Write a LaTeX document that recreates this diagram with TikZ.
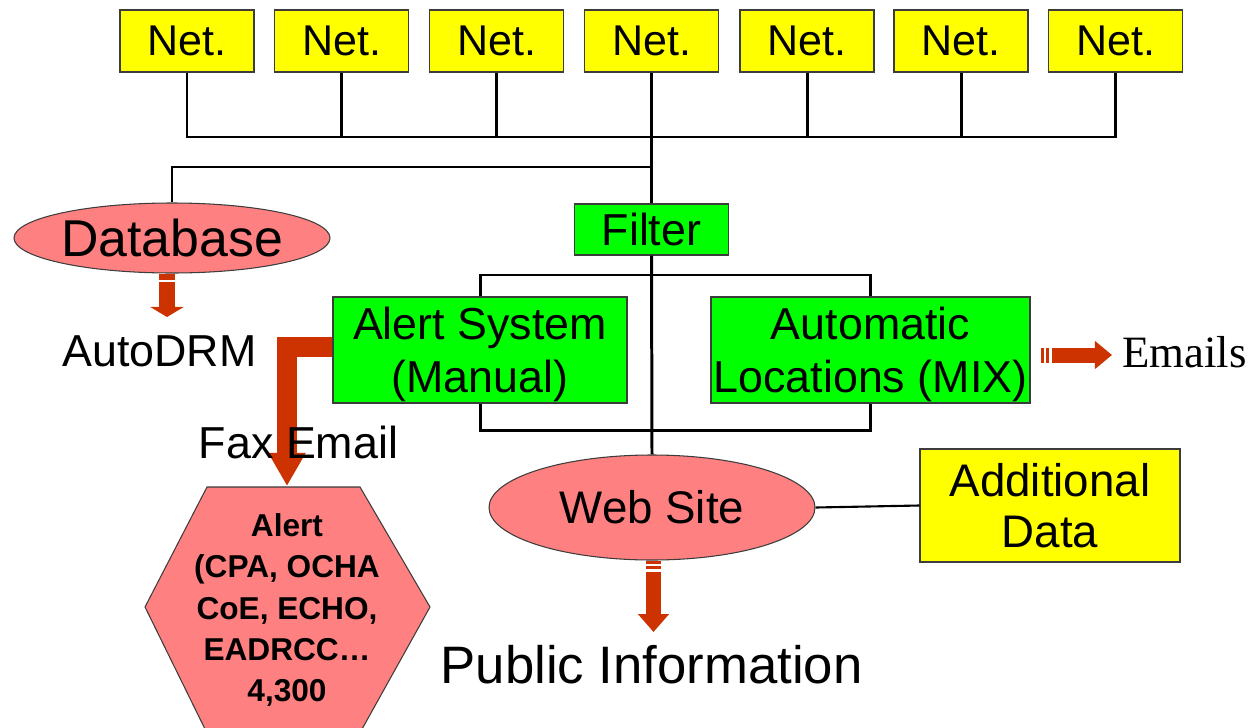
\documentclass[tikz,border=0pt]{standalone}
\usepackage{fontspec}
\setmainfont{Liberation Sans}
\newfontfamily\timesfont{Liberation Serif}
\usetikzlibrary{arrows.meta,calc,shapes.geometric}

\definecolor{netyellow}{RGB}{255,255,0}
\definecolor{procgreen}{RGB}{0,255,0}
\definecolor{salmon}{RGB}{255,128,128}
\definecolor{flowred}{RGB}{204,51,0}
\definecolor{edge}{RGB}{60,60,60}

% one drawing unit (0.02cm = 0.569pt)
\newdimen\pxl \pxl=0.02cm

\tikzset{
  netbox/.style={draw=edge, line width=0.6pt, fill=netyellow, inner sep=0pt,
    minimum width=134*\pxl, minimum height=62*\pxl,
    font=\fontsize{24.5}{28}\selectfont},
  infobox/.style={draw=edge, line width=0.6pt, fill=netyellow, inner sep=0pt,
    align=center, font=\fontsize{26}{29}\selectfont},
  greenbox/.style={draw=edge, line width=0.6pt, fill=procgreen, inner sep=0pt,
    align=center, font=\fontsize{25.5}{30}\selectfont},
  greentext/.style={inner sep=0pt, align=center, yshift=-2.5pt,
    font=\fontsize{25.5}{30}\selectfont},
  pinkoval/.style={ellipse, draw=edge, line width=0.6pt, fill=salmon, inner sep=0pt},
  caption/.style={inner sep=0pt, font=\fontsize{25.5}{30}\selectfont},
  wire/.style={line width=1.7pt, black, line join=miter},
  thinwire/.style={line width=1.2pt, black},
  flow/.style={draw=flowred, line join=miter},
  stripe/.style={fill=flowred},
}

\begin{document}
\begin{tikzpicture}[x=\pxl, y=-\pxl]
\useasboundingbox (0,0) rectangle (1257,727);

% ---- network boxes and bus ----
\node[netbox] (n1) at (187,41) {Net.};
\node[netbox] (n2) at (341.5,41) {Net.};
\node[netbox] (n3) at (496.5,41) {Net.};
\node[netbox] (n4) at (651.5,41) {Net.};
\node[netbox] (n5) at (807,41) {Net.};
\node[netbox] (n6) at (961,41) {Net.};
\node[netbox] (n7) at (1115.5,41) {Net.};
\coordinate (busR) at (1115.5,137);
\coordinate (tap) at (651.5,167);

% ---- processing chain ----
\node[pinkoval, minimum width=316*\pxl, minimum height=70*\pxl,
      font=\fontsize{29.5}{32}\selectfont] (db) at (172,238) {Database};
\node[greenbox, minimum width=154*\pxl, minimum height=51*\pxl] (filter) at (651.5,229.5) {Filter};
\node[greenbox, minimum width=294*\pxl, minimum height=106*\pxl,
      label={[greentext]center:{Alert System\\(Manual)}}] (alert) at (480,350) {};
\node[greenbox, minimum width=319*\pxl, minimum height=106*\pxl,
      label={[greentext]center:{Automatic\\Locations (MIX)}}] (auto) at (870.5,350) {};
\node[pinkoval, minimum width=326*\pxl, minimum height=105*\pxl,
      font=\fontsize{26}{30}\selectfont] (web) at (652,507.5) {Web Site};
\node[infobox, minimum width=260*\pxl, minimum height=113*\pxl] (extra) at (1050,505.5) {Additional\\Data};
\coordinate (upj) at (651.5,275);
\coordinate (lowj) at (651.5,430);

% ---- recipients ----
\filldraw[fill=salmon, draw=edge, line width=0.6pt]
  (207,487) -- (360,487) -- (430,607) -- (361.5,730) -- (205.5,730) -- (145,607) -- cycle;
\node[inner sep=0pt, align=center, font=\bfseries\fontsize{18}{23.6}\selectfont] (hex) at (287,610)
  {Alert\\(CPA, OCHA\\CoE, ECHO,\\EADRCC…\\4,300};
\coordinate (hextop) at (287,486);

\node[caption] (drm) at (159.5,351) {AutoDRM};
\node[caption, font=\timesfont\fontsize{25.5}{30}\selectfont] (mail) at (1184.5,352) {Emails};
\node[caption, font=\fontsize{30}{34}\selectfont] (pub) at (651.5,665) {Public Information};

% ---- wiring ----
\draw[wire] (n1.south) |- (busR) -- (n7.south);
\foreach \i in {2,3,5,6} \draw[wire] (n\i.south) -- (n\i.south |- busR);
\draw[wire] (n4.south) -- (filter.north);
\draw[wire] (tap) -| (db.north);
\draw[wire] (filter.south) -- (web.north);
\draw[wire] (alert.north) |- (upj) -| (auto.north);
\draw[wire] (alert.south) |- (lowj) -| (auto.south);
\draw[thinwire] (web.east) -- (extra.west);

% ---- striped flow arrows ----
% database -> AutoDRM
\coordinate (dbA) at (167,282);
\coordinate (dbB) at (167,317);
\fill[stripe] (159,273.5) rectangle (175,280);
\draw[flow, line width=16*\pxl, -{Triangle[width=18.8pt, length=5.7pt]}] (dbA) -- (dbB);

% web site -> public information
\coordinate (wbA) at (653.5,572);
\coordinate (wbB) at (653.5,632);
\fill[stripe] (646,561) rectangle (661,563.5);
\fill[stripe] (646,566) rectangle (661,569);
\draw[flow, line width=15*\pxl, -{Triangle[width=17.1pt, length=10.2pt]}] (wbA) -- (wbB);

% automatic locations -> emails
\coordinate (emA) at (1052,355);
\coordinate (emB) at (1112,355);
\fill[stripe] (1041,347.5) rectangle (1043.5,362.5);
\fill[stripe] (1045.5,347.5) rectangle (1049,362.5);
\draw[flow, line width=15*\pxl, -{Triangle[width=15.4pt, length=9.7pt]}] (emA) -- (emB);

% alert system -> recipients (bent arrow)
\coordinate (elbow) at (287,347);
\draw[flow, line width=20*\pxl, -{Triangle[width=19.9pt, length=18.8pt]}]
  (alert.west |- elbow) -- (elbow) -- (hextop);

% label set over the bent arrow
\node[caption] (fax) at (298.5,442) {Fax Email};
\end{tikzpicture}
\end{document}
